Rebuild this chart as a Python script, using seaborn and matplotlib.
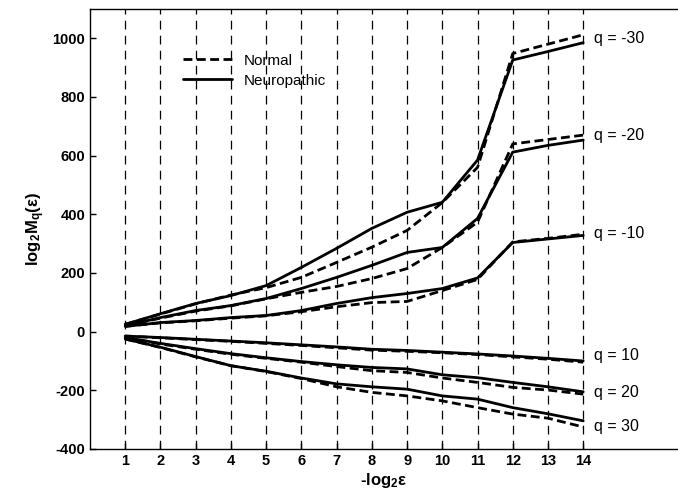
import matplotlib
matplotlib.use("Agg")
import matplotlib.pyplot as plt
import seaborn as sns
import pandas as pd
from matplotlib.lines import Line2D

# ---- data ----
scales = list(range(1, 15))
q_values = [-30, -20, -10, 10, 20, 30]

normal_qm30 = [25, 60, 95, 125, 150, 185, 236, 288, 345, 440, 560, 948, 980, 1012]
neuro_qm30 = [25, 61, 96, 123, 157, 219, 284, 352, 407, 441, 585, 926, 955, 985]
normal_qm20 = [20, 46, 70, 88, 112, 134, 154, 181, 215, 287, 373, 640, 655, 670]
neuro_qm20 = [20, 48, 72, 89, 113, 147, 185, 226, 270, 287, 386, 612, 635, 653]
normal_qm10 = [18, 30, 37, 46, 54, 68, 85, 99, 103, 140, 178, 306, 318, 332]
neuro_qm10 = [18, 31, 38, 48, 55, 72, 96, 116, 130, 147, 183, 304, 316, 328]
normal_q10 = [-15, -21, -27, -33, -40, -47, -55, -63, -67, -72, -78, -86, -94, -104]
neuro_q10 = [-15, -20, -26, -32, -38, -45, -52, -60, -64, -70, -76, -83, -91, -100]
normal_q20 = [-20, -42, -60, -77, -91, -104, -119, -133, -139, -158, -173, -190, -199, -213]
neuro_q20 = [-20, -40, -58, -75, -89, -102, -113, -122, -127, -147, -157, -173, -188, -205]
normal_q30 = [-25, -54, -86, -116, -136, -160, -188, -207, -219, -236, -259, -281, -295, -325]
neuro_q30 = [-25, -53, -85, -116, -135, -158, -178, -188, -196, -219, -230, -259, -280, -304]

label_y = [1001, 667, 334, -82, -208, -324]
y_ticks = [-400, -200, 0, 200, 400, 600, 800, 1000]

normal = [normal_qm30, normal_qm20, normal_qm10, normal_q10, normal_q20, normal_q30]
neuro = [neuro_qm30, neuro_qm20, neuro_qm10, neuro_q10, neuro_q20, neuro_q30]

rows = []
for q, n_vals, p_vals in zip(q_values, normal, neuro):
    for x, v in zip(scales, n_vals):
        rows.append({"x": x, "y": v, "q": q, "group": "Normal"})
    for x, v in zip(scales, p_vals):
        rows.append({"x": x, "y": v, "q": q, "group": "Neuropathic"})
df = pd.DataFrame(rows)
df["unit"] = df["group"] + df["q"].astype(str)

sns.set_style("white")
plt.rcParams["font.family"] = ["Liberation Sans", "DejaVu Sans"]
plt.rcParams["mathtext.fontset"] = "custom"
plt.rcParams["mathtext.rm"] = "Liberation Sans:bold"
plt.rcParams["mathtext.it"] = "Liberation Sans:bold"
plt.rcParams["mathtext.bf"] = "Liberation Sans:bold"
plt.rcParams["mathtext.default"] = "regular"
plt.rcParams["axes.unicode_minus"] = False
plt.rcParams["text.color"] = "black"
plt.rcParams["axes.labelcolor"] = "black"
plt.rcParams["xtick.color"] = "black"
plt.rcParams["ytick.color"] = "black"

fig = plt.figure(figsize=(6.78, 4.98), dpi=100)
ax = fig.add_axes([0.1327, 0.0984, 0.8673, 0.8836])

dash_normal = (3.2, 1.6)
sns.lineplot(data=df, x="x", y="y", style="group", units="unit", estimator=None,
             color="black", linewidth=2.0, ax=ax, legend=False,
             dashes={"Normal": dash_normal, "Neuropathic": ""},
             style_order=["Normal", "Neuropathic"])

ax.set_xlim(0, 16.69)
ax.set_ylim(-400, 1100)
ax.set_xticks(scales)
ax.set_yticks(y_ticks)
ax.grid(axis="x", color="black", linestyle=(0, (7, 5)), linewidth=0.9)
ax.grid(axis="y", visible=False)
ax.set_axisbelow(True)

for s in ["left", "bottom", "top"]:
    ax.spines[s].set_visible(True)
    ax.spines[s].set_color("black")
    ax.spines[s].set_linewidth(1.0)
ax.spines["right"].set_visible(False)

ax.tick_params(axis="both", direction="in", length=4, width=1, colors="black",
               labelcolor="black", labelsize=10.5, left=True, bottom=True)
for lab in ax.get_xticklabels() + ax.get_yticklabels():
    lab.set_fontweight("bold")

ax.set_xlabel("-log$_2$ε", fontsize=12, fontweight="bold", labelpad=2, color="black")
ax.set_ylabel("log$_2$M$_q$(ε)", fontsize=12, fontweight="bold", labelpad=4, color="black")

for q, yv in zip(q_values, label_y):
    ax.text(14.3, yv, f"q = {q}", fontsize=11.5, va="center", ha="left", color="black")

handles = [Line2D([], [], color="black", lw=2.0, dashes=dash_normal),
           Line2D([], [], color="black", lw=2.0)]
leg = ax.legend(handles, ["Normal", "Neuropathic"], loc="upper left",
                bbox_to_anchor=(0.135, 0.93), frameon=False, fontsize=11,
                handlelength=3.2, handletextpad=0.8, labelspacing=0.4)
for t in leg.get_texts():
    t.set_color("black")

fig.savefig("out.png", dpi=100)
